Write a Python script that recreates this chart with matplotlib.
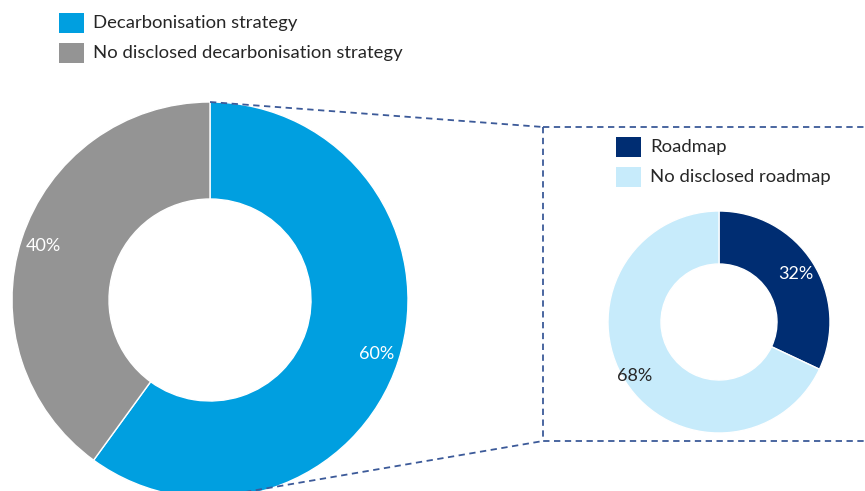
import numpy as np
import matplotlib
matplotlib.use('Agg')
import matplotlib.pyplot as plt
from matplotlib.patches import Rectangle

plt.rcParams['font.family'] = ['Lato', 'DejaVu Sans']

# overall split
MAIN_LABELS = ['Decarbonisation strategy', 'No disclosed decarbonisation strategy']
MAIN_VALUES = [60, 40]
MAIN_COLORS = ['#009FE0', '#949494']

# breakdown of the decarbonisation strategy slice
SUB_LABELS = ['Roadmap', 'No disclosed roadmap']
SUB_VALUES = [32, 68]
SUB_COLORS = ['#002D72', '#C7EBFB']

W, H = 865, 491
TEXT = '#262626'
LINE = '#3C5A99'


def donut(ax, values, colors, center, radius, hole, label_colors, label_dist):
    wedges, _ = ax.pie(values, colors=colors, radius=radius, center=center,
                       startangle=90, counterclock=False,
                       wedgeprops=dict(width=radius - hole, edgecolor='white', linewidth=1))
    for w, v, c, d in zip(wedges, values, label_colors, label_dist):
        ang = np.deg2rad((w.theta1 + w.theta2) / 2)
        x = center[0] + d * radius * np.cos(ang)
        y = center[1] + d * radius * np.sin(ang)
        ax.text(x, y, '{}%'.format(v), ha='center', va='center', color=c, fontsize=13)
    return wedges


def legend(ax, x, y, labels, colors):
    for i, (lab, col) in enumerate(zip(labels, colors)):
        yy = y - i * 30
        ax.add_patch(Rectangle((x, yy - 10), 25, 20, facecolor=col, edgecolor='none'))
        ax.text(x + 34, yy, lab, ha='left', va='center', color=TEXT, fontsize=13.3)


fig = plt.figure(figsize=(W / 100, H / 100), dpi=100)
ax = fig.add_axes([0, 0, 1, 1])

big_c = (210, H - 300)
small_c = (719, H - 322)

# zoom connectors and the dashed frame around the breakdown
box_l, box_t, box_b = 543, H - 127, H - 441
dash = dict(color=LINE, linewidth=1.3, linestyle=(0, (3.5, 2.5)))
ax.plot([big_c[0], box_l], [big_c[1] + 198, box_t], **dash)
ax.plot([big_c[0], box_l], [big_c[1] - 198, box_b], **dash)
ax.plot([box_l, box_l, W + 5], [box_t, box_b, box_b], **dash)
ax.plot([box_l, W + 5], [box_t, box_t], **dash)

donut(ax, MAIN_VALUES, MAIN_COLORS, big_c, 198, 101,
      ['white', 'white'], [0.885, 0.885])
donut(ax, SUB_VALUES, SUB_COLORS, small_c, 111, 58,
      ['white', TEXT], [0.815, 0.9])

legend(ax, 59, H - 23, MAIN_LABELS, MAIN_COLORS)
legend(ax, 616, H - 147, SUB_LABELS, SUB_COLORS)

ax.set_xlim(0, W)
ax.set_ylim(0, H)
ax.set_aspect('equal')
ax.axis('off')

fig.savefig('out.png', dpi=100, facecolor='white')
